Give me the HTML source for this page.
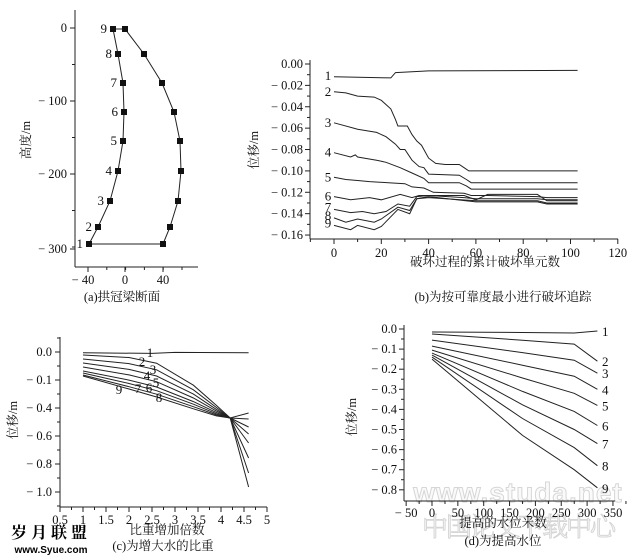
<!DOCTYPE html>
<html><head><meta charset="utf-8">
<style>
html,body{margin:0;padding:0;background:#fff;}
svg{display:block;}
text{font-family:"Liberation Serif","Noto Serif CJK SC",serif;fill:#111;}
.cj{font-family:"Liberation Serif","Noto Serif CJK SC","Noto Sans CJK SC",serif;}
</style></head><body>
<svg id="s" width="638" height="558" viewBox="0 0 638 558" xmlns="http://www.w3.org/2000/svg">
<rect width="638" height="558" fill="#fff"/>
<!-- watermarks (behind) -->
<text x="518" y="502" font-size="28" text-anchor="middle" style="fill:#fafafa;stroke:#d6d6d6;stroke-width:1;font-family:'Liberation Sans',sans-serif;font-weight:bold" letter-spacing="1">www.studa.net</text>
<text x="518" y="536" font-size="26" text-anchor="middle" class="cj" style="fill:#fafafa;stroke:#d6d6d6;stroke-width:1" letter-spacing="-2">中国论文下载中心</text>
<g id="g" stroke="#222" fill="none" stroke-width="1"></g>
<g id="t" font-size="12.5"></g>
<text x="51" y="538" font-size="16" text-anchor="middle" class="cj" style="font-weight:bold;fill:#000" letter-spacing="4">岁月联盟</text>
<text x="51" y="553" font-size="10" text-anchor="middle" style="font-family:'Liberation Sans',sans-serif;font-weight:bold;fill:#000">www.Syue.com</text>
</svg>
<script>
var G=document.getElementById('g'),T=document.getElementById('t'),NS='http://www.w3.org/2000/svg';
function el(p,n,a,txt){var e=document.createElementNS(NS,n);for(var k in a)e.setAttribute(k,a[k]);if(txt!==undefined)e.textContent=txt;p.appendChild(e);return e;}
function line(x1,y1,x2,y2,w){el(G,'line',{x1:x1,y1:y1,x2:x2,y2:y2,'stroke-width':w||1});}
function poly(pts,w){el(G,'polyline',{points:pts.map(function(p){return p[0].toFixed(1)+','+p[1].toFixed(1)}).join(' '),'stroke-width':w||1});}
function txt(x,y,s,o){o=o||{};var a={x:x,y:y};if(o.a)a['text-anchor']=o.a;if(o.fs)a['font-size']=o.fs;if(o.cls)a['class']=o.cls;if(o.tr)a.transform=o.tr;el(T,'text',a,s);}

/* ---------- (a) ---------- */
line(75,10,75,267);line(75,267,198,267);
[[0,28],[-100,101],[-200,174],[-300,249]].forEach(function(v){line(70,v[1],75,v[1]);txt(67,v[1]+4,(v[0]==0?'0':'− '+(-v[0])),{a:'end'});});
for(var y=28-36.5;y<260;y+=36.5){if(y>10)line(72,y,75,y);}
[[-40,88],[0,125],[40,163]].forEach(function(v){line(v[1],267,v[1],272);txt(v[1]+(v[0]<0?-5:0),284,(v[0]<0?'− 40':String(v[0])),{a:'middle'});});
for(var x=88-18.8;x<198;x+=18.8){if(x>75)line(x,267,x,270);}
var L=[[113,29],[118,54],[123,83],[124,112],[123,141],[118,171],[110,201],[98,227],[89,244]];
var R=[[125,29],[144,54],[162,83],[174,112],[180,141],[181,171],[178,201],[170,227],[163,244]];
poly(L);poly(R);line(113,29,125,29);line(89,244,163,244);
L.concat(R).forEach(function(p){el(G,'rect',{x:p[0]-3,y:p[1]-3,width:6,height:6,fill:'#111',stroke:'none'});});
L.forEach(function(p,i){txt(p[0]-6,p[1]+4,String(9-i),{a:'end',fs:13});});
txt(30,140,'高度/m',{a:'middle',cls:'cj',fs:12.5,tr:'rotate(-90 30 140)'});
txt(122,301,'(a)拱冠梁断面',{a:'middle',cls:'cj',fs:12.5});

/* ---------- (b) ---------- */
function bx(v){return 334+v*2.365;} function by(v){return 64-v*1069;}
line(310,60,310,239);line(310,239,618,239);
for(var i=0;i<=8;i++){var yy=by(-0.02*i);line(305,yy,310,yy);txt(303,yy+4,(i==0?'0.00':'− 0.'+(i*2<10?'0':'')+(i*2)),{a:'end'});if(i<8)line(307,yy+10.7,310,yy+10.7);}
for(var i=0;i<=6;i++){var xx=bx(20*i);line(xx,239,xx,244);txt(xx,257,String(20*i),{a:'middle'});line(xx+23.6,239,xx+23.6,242);}
line(bx(-10),239,bx(-10),242);
var B=[
[[0,-.012],[24,-.013],[26,-.008],[40,-.0065],[103,-.006]],
[[0,-.026],[5,-.027],[10,-.030],[17,-.031],[20,-.034],[24,-.042],[26,-.052],[27,-.058],[31,-.058],[33,-.066],[35,-.072],[37,-.076],[40,-.088],[43,-.093],[47,-.094],[53,-.094],[55,-.097],[57,-.100],[103,-.100]],
[[0,-.055],[10,-.061],[18,-.064],[22,-.068],[26,-.075],[28,-.080],[30,-.080],[33,-.090],[36,-.096],[38,-.097],[40,-.103],[53,-.104],[56,-.108],[58,-.111],[103,-.111]],
[[0,-.083],[7,-.087],[9,-.085],[10,-.087],[18,-.090],[22,-.092],[28,-.097],[33,-.102],[38,-.107],[40,-.111],[53,-.111],[56,-.114],[58,-.117],[103,-.117]],
[[0,-.106],[5,-.108],[10,-.109],[15,-.110],[23,-.111],[30,-.112],[33,-.115],[38,-.116],[42,-.120],[55,-.121],[58,-.123],[65,-.123],[86,-.124],[90,-.125],[103,-.125]],
[[0,-.124],[7,-.127],[15,-.125],[20,-.127],[28,-.122],[33,-.125],[36,-.123],[40,-.123],[55,-.125],[60,-.126],[86,-.126],[90,-.127],[103,-.127]],
[[0,-.136],[7,-.139],[12,-.138],[17,-.140],[22,-.138],[27,-.131],[32,-.133],[35,-.124],[40,-.123],[55,-.123],[60,-.127],[65,-.122],[86,-.122],[90,-.128],[103,-.128]],
[[0,-.144],[5,-.148],[10,-.145],[17,-.148],[20,-.145],[27,-.134],[32,-.137],[35,-.126],[40,-.125],[60,-.128],[86,-.128],[90,-.130],[103,-.130]],
[[0,-.151],[7,-.155],[10,-.151],[17,-.155],[20,-.152],[27,-.136],[32,-.140],[35,-.126],[40,-.124],[60,-.129],[86,-.129],[90,-.131],[103,-.131]]];
B.forEach(function(c,i){poly(c.map(function(p){return [bx(p[0]),by(p[1])];}));
 var ly=[-.011,-.026,-.055,-.083,-.106,-.124,-.136,-.144,-.151][i];txt(328,by(ly)+(i>5?2:4),String(i+1),{a:'middle',fs:13});});
txt(258,150,'位移/m',{a:'middle',cls:'cj',fs:12.5,tr:'rotate(-90 258 150)'});
txt(485,266,'破坏过程的累计破坏单元数',{a:'middle',cls:'cj',fs:12.5});
txt(503,301,'(b)为按可靠度最小进行破坏追踪',{a:'middle',cls:'cj',fs:12.5});

/* ---------- (c) ---------- */
function cx(v){return 60+(v-0.5)*46;} function cy(v){return 352-v*140;}
line(60,337,60,507);line(60,507,267,507);
[['0.0',0],['− 0.1',-0.2],['− 0.4',-0.4],['− 0.6',-0.6],['− 0.8',-0.8],['− 1.0',-1.0]].forEach(function(v){var yy=cy(v[1]);line(55,yy,60,yy);txt(52,yy+4,v[0],{a:'end'});line(57,yy-14,60,yy-14);});
line(57,cy(-1.1),60,cy(-1.1));
['0.5','1','1.5','2','2.5','3','3.5','4','4.5','5'].forEach(function(s,i){var xx=cx(0.5+0.5*i);line(xx,507,xx,512);txt(xx,524,s,{a:'middle'});if(i<9)line(xx+11.5,507,xx+11.5,510);});
poly([[cx(1),cy(-0.006)],[cx(2.5),cy(-0.01)],[cx(3),cy(-0.003)],[cx(4.6),cy(-0.005)]]);
var y0=[355,359,363,367,371,373,375,376],ye=[413,419,427,434,443,458,473,487];
for(var k=0;k<8;k++){var t=k/7,s=y0[k],f1=0.13+0.37*t,f2=0.48+0.30*t,f3=0.80+0.15*t;
 poly([[cx(1),s],[cx(2),s+(418-s)*(0.04+0.27*t)],[cx(2.6),s+(418-s)*f1],[cx(3.4),s+(418-s)*f2],[cx(3.9),s+(418-s)*f3],[cx(4.2),418],[cx(4.6),ye[k]]]);}
[['1',150,357],['2',142,366],['3',153,374],['4',147,380],['5',156,387],['6',149,392],['7',138,393],['9',119,394],['8',159,402]].forEach(function(l){txt(l[1],l[2],l[0],{a:'middle',fs:13});});
txt(17,420,'位移/m',{a:'middle',cls:'cj',fs:12.5,tr:'rotate(-90 17 420)'});
txt(167,534,'比重增加倍数',{a:'middle',cls:'cj',fs:12.5});
txt(163,550,'(c)为增大水的比重',{a:'middle',cls:'cj',fs:12.5});

/* ---------- (d) ---------- */
function dx(v){return 432+v*0.517;} function dy(v){return 329-v*201;}
line(404,325,404,501);line(404,501,615,501);
for(var i=0;i<=8;i++){var yy=dy(-0.1*i);line(399,yy,404,yy);txt(397,yy+4,(i==0?'0.0':'− 0.'+i),{a:'end'});if(i<8)line(401,yy+10,404,yy+10);}
for(var i=-1;i<=7;i++){var xx=dx(50*i);line(xx,501,xx,506);txt(xx,517,(i<0?'− 50':String(50*i)),{a:'middle'});line(xx+13,501,xx+13,504);}
var ds=[-.015,-.025,-.055,-.085,-.105,-.12,-.13,-.14,-.15],dm=[-.02,-.075,-.155,-.235,-.32,-.41,-.50,-.59,-.70],de=[-.01,-.16,-.22,-.30,-.38,-.48,-.57,-.68,-.79];
for(var k=0;k<9;k++){var mid=ds[k]+(dm[k]-ds[k])*(k==0?0.5:0.6+0.09*k/8);
 poly([[dx(0),dy(ds[k])],[dx(175),dy(mid)],[dx(275),dy(dm[k])],[dx(320),dy(de[k])]]);
 txt(602,dy(de[k])+5,String(k+1),{a:'start',fs:13});}
txt(356,417,'位移/m',{a:'middle',cls:'cj',fs:12.5,tr:'rotate(-90 356 417)'});
txt(503,527,'提高的水位米数',{a:'middle',cls:'cj',fs:12.5});
txt(503,545,'(d)为提高水位',{a:'middle',cls:'cj',fs:12.5});
</script>
</body></html>
